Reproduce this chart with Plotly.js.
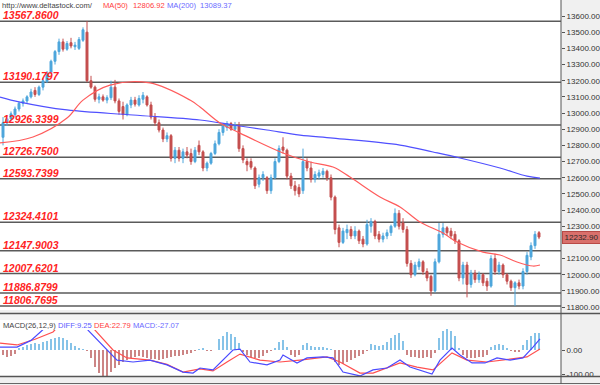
<!DOCTYPE html>
<html><head><meta charset="utf-8">
<script src="https://cdn.plot.ly/plotly-3.0.1.min.js"></script>
<style>html,body{margin:0;padding:0;background:#f0f0f0}#chart{width:600px;height:385px}</style>
</head><body><div id="chart"></div>
<script>
// ---- candle data (price) ----
const openP = [12850,12940,12965,12990,13025,13060,13075,13100,13140,13115,13160,13195,13250,13320,13380,13440,13395,13435,13410,13400,13450,13500,13200,13160,13085,13100,13080,13095,13160,13075,13040,12990,13050,13080,13050,13085,13100,13050,12975,12940,12895,12840,12860,12720,12770,12720,12760,12750,12700,12800,12760,12660,12690,12750,12810,12880,12910,12935,12900,12925,12780,12700,12700,12660,12560,12600,12600,12520,12600,12700,12790,12770,12610,12550,12540,12520,12700,12660,12590,12610,12620,12640,12600,12480,12290,12200,12260,12280,12240,12270,12220,12190,12300,12330,12250,12220,12240,12260,12300,12380,12320,12280,12070,12000,12050,12080,12020,11990,11900,12080,12250,12290,12270,12250,12210,11980,12060,11940,12010,11970,12000,11960,11930,12100,12020,12060,12000,11960,11920,11950,11930,12020,12110,12180,12260];
const highP = [12975,12985,13010,13040,13070,13090,13110,13150,13160,13170,13215,13260,13330,13390,13460,13460,13445,13465,13440,13470,13530,13568,13230,13170,13120,13115,13110,13200,13205,13090,13070,13060,13100,13100,13110,13130,13110,13070,13000,12960,12910,12880,12870,12790,12790,12780,12790,12780,12790,12830,12770,12700,12760,12830,12900,12930,12950,12945,12945,12945,12800,12720,12720,12670,12620,12640,12610,12620,12720,12800,12850,12780,12630,12580,12560,12780,12720,12700,12640,12650,12660,12650,12620,12490,12310,12290,12310,12300,12300,12280,12240,12340,12350,12340,12270,12260,12280,12310,12410,12400,12350,12300,12090,12080,12100,12090,12040,12000,12100,12320,12320,12300,12290,12270,12220,12080,12080,12030,12030,12020,12010,11980,12120,12130,12080,12070,12010,11970,11960,11970,12040,12140,12200,12270,12270];
const lowP = [12800,12920,12950,12975,13010,13040,13060,13090,13100,13105,13140,13185,13240,13300,13360,13380,13385,13400,13390,13390,13440,13190,13150,13070,13060,13070,13060,13080,13060,12990,12960,12980,13030,13040,13040,13060,13040,12960,12920,12880,12820,12820,12700,12690,12700,12690,12720,12680,12690,12740,12640,12640,12680,12740,12800,12860,12890,12890,12890,12760,12690,12640,12650,12530,12540,12580,12500,12500,12590,12690,12750,12590,12530,12490,12480,12500,12640,12570,12570,12590,12600,12580,12460,12250,12170,12190,12220,12220,12220,12190,12170,12180,12260,12220,12200,12200,12220,12240,12290,12280,12260,12050,11980,11990,12030,12000,11960,11870,11890,12070,12230,12240,12220,12190,11960,11940,11860,11920,11950,11950,11930,11900,11920,12000,12000,11980,11940,11900,11807,11910,11910,12000,12090,12160,12220];
const closeP = [12940,12965,12995,13025,13060,13075,13100,13130,13115,13160,13200,13250,13320,13380,13440,13395,13430,13415,13420,13455,13515,13200,13160,13085,13100,13080,13095,13160,13075,13010,12990,13050,13080,13055,13090,13110,13050,12975,12940,12895,12840,12860,12720,12770,12720,12760,12740,12700,12770,12760,12660,12690,12750,12810,12880,12920,12935,12900,12925,12780,12710,12680,12665,12550,12600,12620,12520,12600,12700,12780,12770,12610,12550,12520,12500,12700,12660,12590,12620,12630,12640,12600,12480,12280,12200,12270,12280,12240,12270,12210,12190,12310,12330,12240,12220,12240,12260,12300,12380,12300,12280,12070,12000,12060,12080,12020,11980,11900,12080,12250,12290,12260,12240,12210,11980,12060,11940,12010,11970,12000,11950,11930,12100,12020,12060,12000,11960,11920,11950,11930,12020,12120,12180,12250,12232.9];

// ---- moving averages (sampled at bar positions) ----
const ma50X = [-0.75,7.5,16,20,26.75,36.75,46.75,49.25,54.25,59.25,70,76.75,82.5,86.75,94.25,99.25,104.25,110,113.5,120,124.25,128.5,132.5,134.25];
const ma50Y = [12815,12852,12969,13080,13173,13186,13080,13037,12938,12876,12753,12697,12666,12604,12481,12419,12326,12258,12202,12140,12122,12079,12054,12060];
const ma200X = [-0.75,4.25,16,32.5,49.25,57.5,66,74.25,82.5,99.25,107.5,114.25,124.25,131,134.25];
const ma200Y = [13099,13068,13019,12988,12957,12926,12895,12864,12845,12802,12759,12722,12660,12610,12598];

// ---- MACD ----
const macdHist = [-22,-28,-26,-18,8,14,20,24,28,25,32,38,44,50,54,48,40,30,18,8,4,-6,-35,-70,-95,-110,-108,-90,-75,-62,-50,-42,-35,-30,-25,-28,-32,-36,-38,-40,-36,-34,-30,-26,-24,-20,-16,-12,-6,4,10,-4,-3,2,46,60,74,68,56,30,-8,-21,-30,-35,-33,-25,-14,-6,8,35,42,12,-20,-28,-22,20,28,18,14,12,14,10,6,-50,-62,-58,-48,-40,-34,-26,-18,-6,25,22,18,20,35,50,62,72,38,-20,-28,-28,-34,-32,-30,-34,-14,50,80,86,78,60,10,-20,-32,-35,-34,-30,-28,-20,12,20,26,22,10,-6,-10,-8,20,40,58,70,72];
const diffX = [-0.75,3.5,7,10,13,16,19,21.25,26,28.5,32.5,36.75,41,45,47.5,49.25,52.5,57.5,59.25,61.75,66,69.25,70,73.5,76,80,82.5,85,89.25,92.5,96,99.25,101.75,107.25,109.25,112.25,114.25,117.25,120.5,123.5,126.75,130,132.5,134.25];
const diffY = [12,12,40,87,130,160,150,83,0,-42,-50,-42,-62,-92,-96,-75,-83,0,4,-50,-62,-42,-21,-54,-33,-29,-33,-92,-108,-83,-75,-42,-71,-100,-42,8,-21,-54,-54,-33,-42,-33,12,46];
const deaX = [-0.75,3.5,8,12.5,16.75,20,23,27.5,31,36.75,41,45,49.25,52.5,56,59.25,64.25,69.25,74.25,81,84.25,89.25,92.5,99.25,103.5,107.5,112.25,116,121,127.5,131,134.25];
const deaY = [29,21,45,75,150,140,83,0,-33,-42,-60,-92,-79,-87,-50,-17,-42,-50,-42,-29,-50,-96,-96,-54,-71,-83,-12,-42,-50,-37,-29,4];

// ---- levels, labels, ticks ----
const levels = [13567.86,13190.1797,12926.3399,12726.75,12593.7399,12324.4101,12147.9003,12007.6201,11886.8799,11806.7695];
const levelLabels = ['13567.8600','13190.1797','12926.3399','12726.7500','12593.7399','12324.4101','12147.9003','12007.6201','11886.8799','11806.7695'];
const priceTicks = [13600,13500,13400,13300,13200,13100,13000,12900,12800,12700,12600,12500,12400,12300,12100,12000,11900,11800];
const priceTickText = ['13600.00','13500.00','13400.00','13300.00','13200.00','13100.00','13000.00','12900.00','12800.00','12700.00','12600.00','12500.00','12400.00','12300.00','12100.00','12000.00','11900.00','11800.00'];
const macdTicks = [0,-100];
const macdTickText = ['0.00','-100.00'];
const lastPrice = 12232.9;

const idx = openP.map((_, i) => i);
const UP = '#4da6dc', DOWN = '#c44e4e';

const traces = [
  {type:'candlestick', x:idx, open:openP, high:highP, low:lowP, close:closeP, xaxis:'x', yaxis:'y',
   increasing:{line:{color:UP,width:1}, fillcolor:UP},
   decreasing:{line:{color:DOWN,width:1}, fillcolor:DOWN},
   whiskerwidth:0, hoverinfo:'skip'},
  {type:'scatter', mode:'lines', x:ma200X, y:ma200Y, line:{color:'#5050ff', width:1.2, shape:'spline'}, xaxis:'x', yaxis:'y', hoverinfo:'skip'},
  {type:'scatter', mode:'lines', x:ma50X, y:ma50Y, line:{color:'#ff5c5c', width:1.2, shape:'spline'}, xaxis:'x', yaxis:'y', hoverinfo:'skip'},
  {type:'bar', x:idx, y:macdHist, width:0.36, marker:{color:macdHist.map(v => v >= 0 ? '#86c3e8' : '#cc8585')}, xaxis:'x', yaxis:'y2', hoverinfo:'skip'},
  {type:'scatter', mode:'lines', x:deaX, y:deaY, line:{color:'#ff4f4f', width:1.2}, xaxis:'x', yaxis:'y2', hoverinfo:'skip'},
  {type:'scatter', mode:'lines', x:diffX, y:diffY, line:{color:'#4a4aff', width:1.2}, xaxis:'x', yaxis:'y2', hoverinfo:'skip'}
];

const PH = 376; // plot area height in px
const py = p => (PH - p) / PH;   // pixel row -> paper y
const px = p => p / 561;         // pixel col -> paper x

const shapes = levels.map(v => ({type:'line', xref:'paper', yref:'y', x0:0, x1:1, y0:v, y1:v, line:{color:'#5a5a5a', width:1.5}, layer:'below'}));
shapes.push(
  {type:'rect', xref:'paper', yref:'paper', x0:0, x1:1, y0:py(320), y1:py(314), fillcolor:'#f4f4f4', line:{width:0}, layer:'above'},
  {type:'rect', xref:'paper', yref:'paper', x0:0, x1:px(178), y0:py(330), y1:py(320), fillcolor:'#ffffff', line:{width:0}, layer:'above'},
  {type:'line', xref:'paper', yref:'paper', x0:0, x1:px(600), y0:py(313.5), y1:py(313.5), line:{color:'#555', width:1.5}},
  {type:'line', xref:'paper', yref:'paper', x0:0, x1:px(600), y0:py(376.5), y1:py(376.5), line:{color:'#555', width:1.5}},
  {type:'line', xref:'paper', yref:'paper', x0:0, x1:px(600), y0:py(383.5), y1:py(383.5), line:{color:'#666', width:1}},
  {type:'line', xref:'paper', yref:'paper', x0:px(561), x1:px(561), y0:py(0), y1:py(384), line:{color:'#555', width:1}}
);

const lblFont = {family:'Liberation Sans', size:10.5, color:'#ff2424'};
const annotations = levels.map((v, i) => ({xref:'paper', yref:'y', x:px(1), y:v, xanchor:'left', yanchor:'bottom', yshift:-2,
  text:'<b><i>' + levelLabels[i] + '</i></b>', showarrow:false, font:lblFont}));

const hdrFont = (c) => ({family:'Liberation Sans', size:7.6, color:c});
const hdr = [
  ['http://www.deltastock.com/', 1, '#444'],
  ['MA(50)', 102, '#ff4040'],
  ['12806.92', 132, '#ff4040'],
  ['MA(200)', 166, '#6a6aff'],
  ['13089.37', 199, '#6a6aff']
];
hdr.forEach(h => annotations.push({xref:'paper', yref:'paper', x:px(h[1]), y:py(6), xanchor:'left', yanchor:'middle', text:h[0], showarrow:false, font:hdrFont(h[2]), borderpad:0}));
const mh = [
  ['MACD(26,12,9)', 2, '#444'],
  ['DIFF:9.25', 57, '#5a5aff'],
  ['DEA:22.79', 93, '#ff4040'],
  ['MACD:-27.07', 132, '#6a6aff']
];
mh.forEach(h => annotations.push({xref:'paper', yref:'paper', x:px(h[1]), y:py(325), xanchor:'left', yanchor:'middle', text:h[0], showarrow:false, font:hdrFont(h[2]), borderpad:0}));
annotations.push({xref:'paper', yref:'y', x:px(561.5), y:lastPrice, xanchor:'left', yanchor:'middle', text:lastPrice.toFixed(2),
  showarrow:false, bgcolor:'#d9706b', bordercolor:'#b84a46', borderwidth:1, borderpad:1, width:35,
  font:{family:'Liberation Sans', size:8, color:'#2a2a2a'}});

const tickFont = {family:'Liberation Sans', size:8, color:'#333'};
const layout = {
  width:600, height:385,
  margin:{l:0, r:39, t:0, b:9, pad:0},
  paper_bgcolor:'#f0f0f0', plot_bgcolor:'#ffffff',
  showlegend:false, bargap:0,
  xaxis:{range:[-0.75,139.5], visible:false, rangeslider:{visible:false}, anchor:'y2', fixedrange:true},
  yaxis:{domain:[py(310),1], range:[11782,13699], side:'right', tickvals:priceTicks, ticktext:priceTickText,
    ticks:'outside', ticklen:3, tickcolor:'#555', showline:false, showgrid:false, zeroline:false, tickfont:tickFont, fixedrange:true},
  yaxis2:{domain:[0,py(320)], range:[-108.3,125], side:'right', tickvals:macdTicks, ticktext:macdTickText,
    ticks:'outside', ticklen:3, tickcolor:'#555', showline:false, showgrid:false, zeroline:false, tickfont:tickFont, fixedrange:true},
  shapes:shapes, annotations:annotations
};
Plotly.newPlot('chart', traces, layout, {staticPlot:true, displayModeBar:false});
</script></body></html>
